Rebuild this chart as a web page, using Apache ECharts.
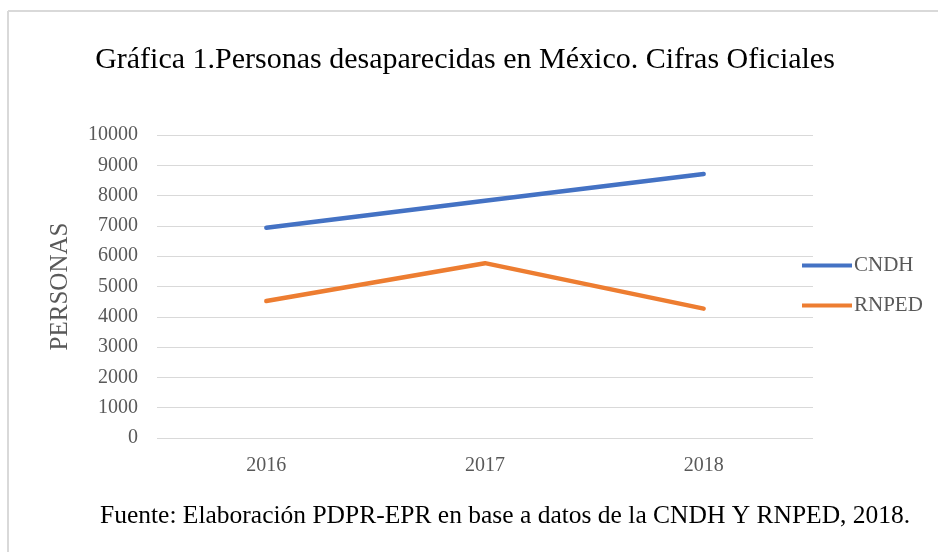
<!DOCTYPE html>
<html>
<head>
<meta charset="utf-8">
<script src="https://cdn.jsdelivr.net/npm/echarts@6/dist/echarts.min.js"></script>
<style>
  html, body { margin: 0; padding: 0; background: #fff; }
  #chart { width: 938px; height: 552px; }
</style>
</head>
<body>
<div id="chart"></div>
<script>
const years = ['2016', '2017', '2018']
const cndh = [6940, 7830, 8710]
const rnped = [4520, 5770, 4270]

const serif = '"Liberation Serif", "DejaVu Serif", serif'
const myChart = echarts.init(document.getElementById('chart'))

const option = {
  animation: false,
  title: {
    text: 'Gráfica 1.Personas desaparecidas en México. Cifras Oficiales',
    left: 460,
    top: 40,
    textAlign: 'center',
    textStyle: { fontFamily: serif, fontSize: 30, fontWeight: 'normal', color: '#000' }
  },
  legend: {
    orient: 'vertical',
    left: 797,
    top: 250,
    itemWidth: 50,
    itemHeight: 4,
    itemGap: 19,
    icon: 'rect',
    textStyle: { fontFamily: serif, fontSize: 21, color: '#595959', padding: [0, 0, 0, -3] },
    data: ['CNDH', 'RNPED']
  },
  grid: { left: 157, right: 125, top: 135, bottom: 114 },
  xAxis: {
    type: 'category',
    data: years,
    axisLine: { show: false },
    axisTick: { show: false },
    axisLabel: { fontFamily: serif, fontSize: 20, color: '#595959', margin: 18 }
  },
  yAxis: {
    type: 'value',
    min: 0,
    max: 10000,
    interval: 1000,
    name: 'PERSONAS',
    nameLocation: 'middle',
    nameGap: 84,
    nameTextStyle: { fontFamily: serif, fontSize: 25, color: '#595959' },
    axisLabel: {
      fontFamily: serif, fontSize: 20, color: '#595959', margin: 19,
      formatter: v => String(v)
    },
    splitLine: { lineStyle: { color: '#d9d9d9', width: 1 } }
  },
  series: [
    {
      name: 'CNDH',
      type: 'line',
      data: cndh,
      symbol: 'none',
      color: '#4472c4',
      lineStyle: { width: 4.5, cap: 'round' }
    },
    {
      name: 'RNPED',
      type: 'line',
      data: rnped,
      symbol: 'none',
      color: '#ed7d31',
      lineStyle: { width: 4.5, cap: 'round' }
    }
  ],
  graphic: [
    { type: 'line', shape: { x1: 8, y1: 11, x2: 938, y2: 11 }, style: { stroke: '#d9d9d9', lineWidth: 2 } },
    { type: 'line', shape: { x1: 8, y1: 11, x2: 8, y2: 552 }, style: { stroke: '#d9d9d9', lineWidth: 2 } },
    {
      type: 'text',
      left: 100,
      top: 503,
      style: {
        text: 'Fuente: Elaboración PDPR-EPR en base a datos de la CNDH Y RNPED, 2018.',
        font: '25.5px ' + serif,
        fill: '#000'
      }
    }
  ]
}

myChart.setOption(option)
</script>
</body>
</html>
